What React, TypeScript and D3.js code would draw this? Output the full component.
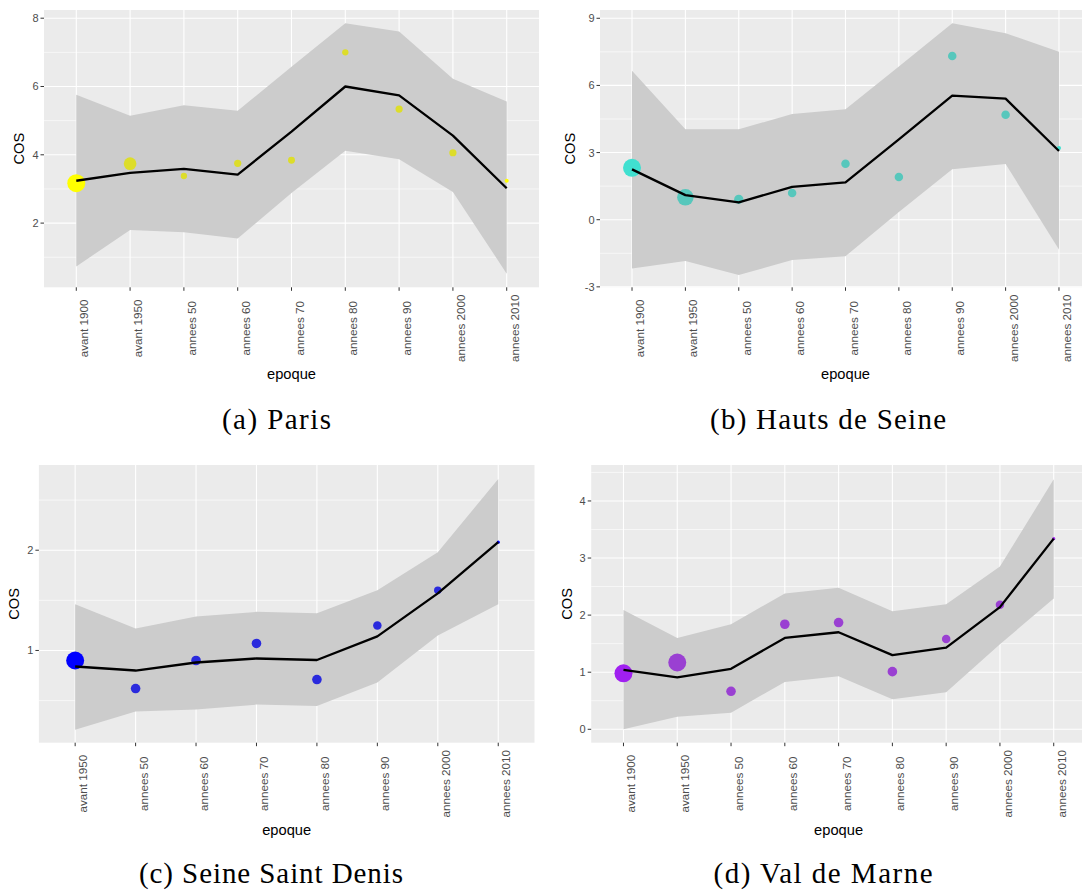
import React from 'react';
import * as d3 from 'd3';

const epoques = ['avant 1900', 'avant 1950', 'annees 50', 'annees 60', 'annees 70', 'annees 80', 'annees 90', 'annees 2000', 'annees 2010'];
const epoquesSSD = epoques.slice(1);

// (a) Paris
const parisMoyenne = [3.24, 3.47, 3.59, 3.42, 4.68, 6.0, 5.74, 4.56, 3.02];
const parisBas = [0.73, 1.8, 1.73, 1.55, 2.88, 4.12, 3.87, 2.91, 0.52];
const parisHaut = [5.76, 5.14, 5.45, 5.29, 6.58, 7.85, 7.61, 6.23, 5.56];
const parisCos = [3.17, 3.74, 3.38, 3.75, 3.84, 7.0, 5.34, 4.06, 3.24];
const parisEffectif = [810, 400, 100, 130, 120, 100, 130, 130, 40];
const parisVif = [1, 0, 0, 0, 0, 0, 0, 0, 1];

// (b) Hauts de Seine
const hdsMoyenne = [2.25, 1.1, 0.77, 1.47, 1.67, 3.59, 5.54, 5.41, 3.07];
const hdsBas = [-2.18, -1.85, -2.47, -1.8, -1.63, 0.35, 2.25, 2.49, -1.33];
const hdsHaut = [6.66, 4.04, 4.04, 4.72, 4.93, 6.84, 8.78, 8.33, 7.51];
const hdsCos = [2.32, 1.0, 0.91, 1.19, 2.5, 1.91, 7.31, 4.69, 3.2];
const hdsEffectif = [760, 640, 200, 170, 170, 170, 170, 170, 40];
const hdsVif = [1, 0, 0, 0, 0, 0, 0, 0, 1];

// (c) Seine Saint Denis
const ssdMoyenne = [0.84, 0.8, 0.88, 0.92, 0.905, 1.14, 1.57, 2.08];
const ssdBas = [0.21, 0.39, 0.41, 0.46, 0.445, 0.68, 1.15, 1.46];
const ssdHaut = [1.46, 1.22, 1.34, 1.385, 1.37, 1.6, 1.98, 2.71];
const ssdCos = [0.9, 0.62, 0.9, 1.07, 0.71, 1.25, 1.6, 2.08];
const ssdEffectif = [810, 230, 230, 230, 230, 180, 140, 25];
const ssdVif = [1, 0, 0, 0, 0, 0, 0, 1];

// (d) Val de Marne
const vdmMoyenne = [1.04, 0.91, 1.06, 1.6, 1.7, 1.3, 1.43, 2.14, 3.34];
const vdmBas = [0.0, 0.22, 0.29, 0.83, 0.93, 0.525, 0.65, 1.49, 2.29];
const vdmHaut = [2.09, 1.6, 1.84, 2.38, 2.48, 2.07, 2.19, 2.85, 4.38];
const vdmCos = [0.98, 1.17, 0.665, 1.84, 1.87, 1.01, 1.58, 2.18, 3.34];
const vdmEffectif = [810, 810, 230, 230, 230, 230, 180, 180, 25];
const vdmVif = [1, 0, 0, 0, 0, 0, 0, 0, 1];

const panels = [
  {
    cats: epoques, moyenne: parisMoyenne, bas: parisBas, haut: parisHaut, cos: parisCos,
    effectif: parisEffectif, vif: parisVif, couleur: '#FFFF00',
    xr: [44, 539], yr: [10, 287.3], domain: [0.12, 8.24],
    ticks: [2, 4, 6, 8], minor: [1, 3, 5, 7], cosX: 23.5,
    caption: '(a) Paris', capX: 276.5, capY: 429, capLen: 109,
  },
  {
    cats: epoques, moyenne: hdsMoyenne, bas: hdsBas, haut: hdsHaut, cos: hdsCos,
    effectif: hdsEffectif, vif: hdsVif, couleur: '#40E0D0',
    xr: [600, 1091], yr: [10, 287.3], domain: [-3.02, 9.37],
    ticks: [-3, 0, 3, 6, 9], minor: [-1.5, 1.5, 4.5, 7.5], cosX: 575,
    caption: '(b) Hauts de Seine', capX: 828, capY: 429, capLen: 236,
  },
  {
    cats: epoquesSSD, moyenne: ssdMoyenne, bas: ssdBas, haut: ssdHaut, cos: ssdCos,
    effectif: ssdEffectif, vif: ssdVif, couleur: '#0000FF',
    xr: [38.9, 534.5], yr: [465, 742.7], domain: [0.08, 2.85],
    ticks: [1, 2], minor: [0.5, 1.5, 2.5], cosX: 19,
    caption: '(c) Seine Saint Denis', capX: 271, capY: 883, capLen: 264,
  },
  {
    cats: epoques, moyenne: vdmMoyenne, bas: vdmBas, haut: vdmHaut, cos: vdmCos,
    effectif: vdmEffectif, vif: vdmVif, couleur: '#A020F0',
    xr: [591.2, 1086], yr: [465, 742.7], domain: [-0.235, 4.63],
    ticks: [0, 1, 2, 3, 4], minor: [0.5, 1.5, 2.5, 3.5, 4.5], cosX: 572,
    caption: '(d) Val de Marne', capX: 823, capY: 883, capLen: 219,
  },
];

const sans = '"Liberation Sans", Arial, sans-serif';

function Panel({ p }: { p: any }) {
  const x = d3.scalePoint<string>().domain(p.cats).range(p.xr).padding(0.6);
  const y = d3.scaleLinear().domain(p.domain).range([p.yr[1], p.yr[0]]);
  const r = d3.scaleSqrt().domain([0, d3.max(p.effectif as number[]) as number]).range([0, 9]);
  // points muted unless flagged "vif"
  const ton = d3.scaleLinear<string>().domain([0, 1])
    .range([d3.interpolateRgb(p.couleur, '#8C8C8C')(0.3), p.couleur]);
  const idx = p.cats.map((_: string, i: number) => i);

  const ribbon = d3.area<number>()
    .x(i => x(p.cats[i]) as number)
    .y0(i => y(p.bas[i]))
    .y1(i => y(p.haut[i]));
  const line = d3.line<number>()
    .x(i => x(p.cats[i]) as number)
    .y(i => y(p.moyenne[i]));

  const [x0, x1] = p.xr;
  const [y0, y1] = p.yr;
  const plotMidX = (x0 + x1) / 2;

  return (
    <g>
      <rect x={x0} y={y0} width={x1 - x0} height={y1 - y0} fill="#EBEBEB" />
      {p.minor.map((v: number) => (
        <line key={'mn' + v} x1={x0} x2={x1} y1={y(v)} y2={y(v)} stroke="#FFFFFF" strokeWidth={0.6} />
      ))}
      {p.ticks.map((v: number) => (
        <line key={'mj' + v} x1={x0} x2={x1} y1={y(v)} y2={y(v)} stroke="#FFFFFF" strokeWidth={1.1} />
      ))}
      {p.cats.map((c: string) => (
        <line key={'v' + c} x1={x(c)} x2={x(c)} y1={y0} y2={y1} stroke="#FFFFFF" strokeWidth={1.1} />
      ))}
      <path d={ribbon(idx) as string} fill="#CCCCCC" />
      {idx.map((i: number) => (
        <circle key={'pt' + i} cx={x(p.cats[i])} cy={y(p.cos[i])} r={r(p.effectif[i])}
          fill={ton(p.vif[i])} />
      ))}
      <path d={line(idx) as string} fill="none" stroke="#000000" strokeWidth={2.3} strokeLinejoin="round" />

      {/* y axis */}
      {p.ticks.map((v: number) => (
        <g key={'yt' + v}>
          <line x1={x0 - 3.5} x2={x0} y1={y(v)} y2={y(v)} stroke="#333333" strokeWidth={1} />
          <text x={x0 - 5.5} y={y(v)} dy="0.36em" textAnchor="end" fontSize={11} fill="#4D4D4D" fontFamily={sans}>{v}</text>
        </g>
      ))}
      {/* x axis */}
      {p.cats.map((c: string) => (
        <g key={'xt' + c}>
          <line x1={x(c)} x2={x(c)} y1={y1} y2={y1 + 3.5} stroke="#333333" strokeWidth={1} />
          <text transform={`translate(${(x(c) as number) + 12},${y1 + 41}) rotate(-90)`} textAnchor="middle"
            fontSize={11.7} fill="#4D4D4D" fontFamily={sans}>{c}</text>
        </g>
      ))}
      <text x={plotMidX} y={y1 + 92} textAnchor="middle" fontSize={14.7} fill="#000000" fontFamily={sans}>epoque</text>
      <text transform={`translate(${p.cosX},${(y0 + y1) / 2}) rotate(-90)`} textAnchor="middle"
        fontSize={14.7} fill="#000000" fontFamily={sans}>COS</text>
      <text x={p.capX} y={p.capY} textAnchor="middle" fontSize={29} fill="#000000"
        fontFamily='"Liberation Serif", "Times New Roman", serif' textLength={p.capLen} lengthAdjust="spacing">{p.caption}</text>
    </g>
  );
}

export default function App() {
  return (
    <svg width={1082} height={890} style={{ position: 'absolute', left: 0, top: 0, background: '#FFFFFF' }}>
      <rect width={1082} height={890} fill="#FFFFFF" />
      {panels.map((p, i) => <Panel key={i} p={p} />)}
    </svg>
  );
}
